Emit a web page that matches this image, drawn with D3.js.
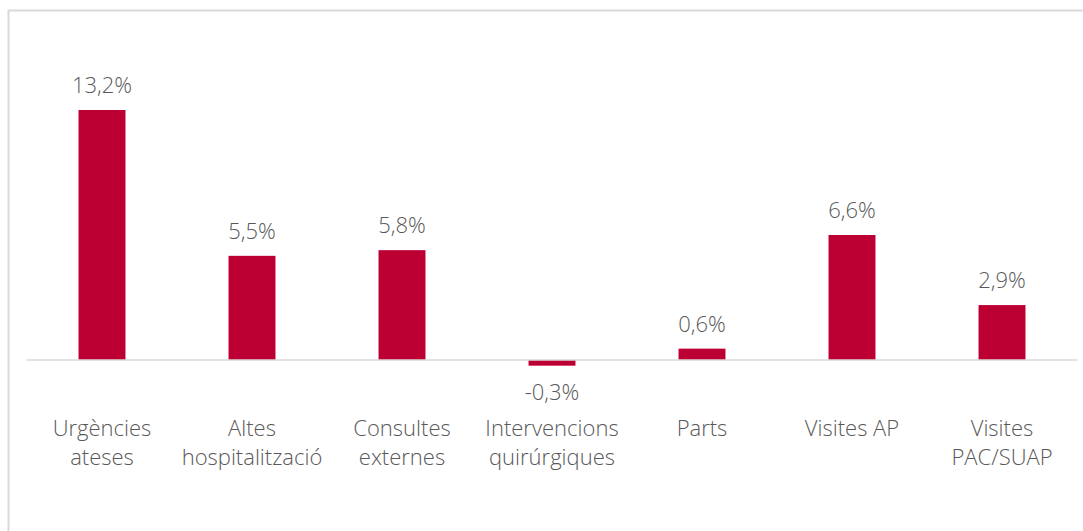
<!DOCTYPE html>
<html>
<head>
<meta charset="utf-8">
<script src="https://cdn.jsdelivr.net/npm/d3@7"></script>
<style>
  body { margin: 0; background: #fff; }
  text { font-family: "Open Sans", sans-serif; font-weight: 300; fill: #595959; }
</style>
</head>
<body>
<div id="chart"></div>
<script>
// categories (each split into label lines) and year-on-year change in %
const categories = ["Urgències ateses", "Altes hospitalització", "Consultes externes",
  "Intervencions quirúrgiques", "Parts", "Visites AP", "Visites PAC/SUAP"]
const labelLines = [["Urgències", "ateses"], ["Altes", "hospitalització"], ["Consultes", "externes"],
  ["Intervencions", "quirúrgiques"], ["Parts"], ["Visites AP"], ["Visites", "PAC/SUAP"]]
const changes = [13.2, 5.5, 5.8, -0.3, 0.6, 6.6, 2.9]

const width = 1083
const height = 531
const margin = {top: 110, right: 6, bottom: 171, left: 27}

const svg = d3.select("#chart").append("svg")
    .attr("width", width)
    .attr("height", height)

// light frame round the chart
svg.append("rect")
    .attr("x", 8.5)
    .attr("y", 10.5)
    .attr("width", width + 10)
    .attr("height", height + 10)
    .attr("fill", "none")
    .attr("stroke", "#d9d9d9")
    .attr("stroke-width", 2)

const x = d3.scaleBand()
    .domain(categories)
    .range([margin.left, width - margin.right])
    .paddingInner(0.687)
    .paddingOuter(0.3435)

const y = d3.scaleLinear()
    .domain([0, 13.2])
    .range([height - margin.bottom, margin.top])

const data = categories.map((c, i) => ({cat: c, value: changes[i], lines: labelLines[i]}))

// bars
svg.append("g").selectAll("rect")
    .data(data)
    .join("rect")
    .attr("x", d => x(d.cat))
    .attr("y", d => y(Math.max(0, d.value)))
    .attr("width", x.bandwidth())
    .attr("height", d => Math.abs(y(d.value) - y(0)))
    .attr("fill", "#bd0033")

// zero line
svg.append("line")
    .attr("x1", margin.left)
    .attr("x2", width - margin.right)
    .attr("y1", y(0))
    .attr("y2", y(0))
    .attr("stroke", "#d9d9d9")
    .attr("stroke-width", 1.5)

const fmt = v => d3.format(".1f")(v).replace(".", ",").replace("−", "-") + "%"

// value labels
svg.append("g").selectAll("text")
    .data(data)
    .join("text")
    .attr("x", d => x(d.cat) + x.bandwidth() / 2)
    .attr("y", d => d.value >= 0 ? y(d.value) - 17 : y(d.value) + 34)
    .attr("text-anchor", "middle")
    .style("font-size", "22px")
    .text(d => fmt(d.value))

// category labels
const catLabels = svg.append("g").selectAll("text")
    .data(data)
    .join("text")
    .attr("text-anchor", "middle")
    .attr("x", d => x(d.cat) + x.bandwidth() / 2)
    .attr("y", 436)
    .style("font-size", "22px")

catLabels.selectAll("tspan")
    .data(d => d.lines.map(l => ({line: l, cx: x(d.cat) + x.bandwidth() / 2})))
    .join("tspan")
    .attr("x", d => d.cx)
    .attr("dy", (d, i) => i === 0 ? 0 : 29)
    .text(d => d.line)
</script>
</body>
</html>
